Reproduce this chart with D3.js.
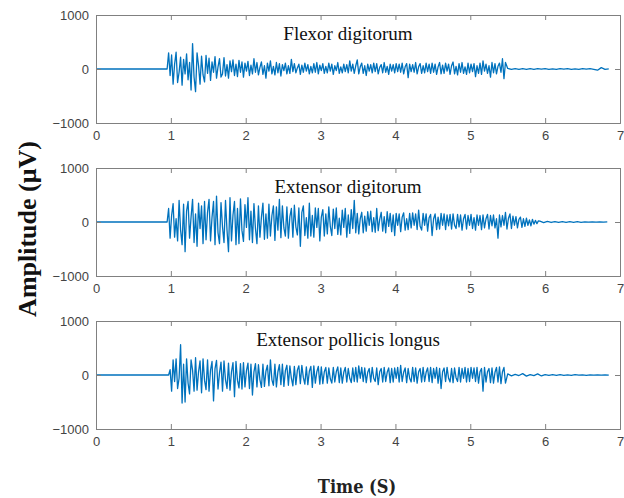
<!DOCTYPE html>
<html>
<head>
<meta charset="utf-8">
<script src="https://d3js.org/d3.v7.min.js"></script>
<style>
  body { margin: 0; background: #fff; }
</style>
</head>
<body>
<script>
// EMG recordings: active part sampled every 0.02 s, quiet tail every 0.05 s
let step = 0.02;
let tailStep = 0.05;
let xTicks = [0, 1, 2, 3, 4, 5, 6, 7];
let yTicks = [-1000, 0, 1000];
let muscleNames = ['Flexor digitorum', 'Extensor digitorum', 'Extensor pollicis longus'];
let onsets = [0.97, 0.97, 0.99];
let tailStarts = [5.5, 5.93, 5.5];

let flexorValues = [
  300,-120,260,-280,90,310,-250,-60,220,-300,180,-90,280,-200,120,-390,470,-150,-420,300,60,-280,240,-110,-240,
  250,-80,200,-210,130,-60,230,-170,40,190,-150,-90,210,-130,80,-170,150,-50,170,-120,90,-140,160,-60,130,
  -150,110,-40,140,-120,70,-90,190,-60,120,-110,30,130,-100,60,-170,110,-40,150,-90,50,-110,120,-70,100,
  -130,80,-30,110,-90,60,-80,180,-50,100,-70,20,90,-100,70,-60,110,-40,80,-90,50,-70,100,-60,120,
  -90,70,-30,100,-80,50,-70,110,-40,90,-100,60,-30,120,-80,40,-70,90,-50,80,-70,150,-40,90,-80,
  60,170,-90,40,110,-80,60,-120,90,-40,80,-70,110,-50,100,-90,30,80,-70,120,-60,50,-100,90,-40,
  80,-70,100,-50,90,-60,110,-90,40,100,-160,90,-50,80,-60,120,-90,40,100,-80,60,-70,110,-50,90,
  -80,110,-60,90,-100,40,120,-90,70,-80,110,-40,90,-100,60,130,-90,50,-110,100,-60,120,-80,40,-100,
  110,-70,90,-50,100,-140,60,-80,110,-100,150,-40,90,-80,60,-150,120,-70,100,-90,50,110,-60,190,-180,120
];
let flexorTail = [10,-8,6,-7,5,-6,8,-5,6,-4,5,-6,4,-5,6,-4,5,-5,4,-6,5,-4,6,-5,-22,25,-6,4];

let extensorValues = [
  250,-300,120,340,-280,60,-350,400,-150,-420,330,-550,200,380,-300,90,420,-380,150,-450,350,-120,300,-400,380,
  -330,180,420,-350,90,380,-420,480,-200,-400,360,-90,-380,400,-150,-550,450,-350,130,380,-420,250,-400,430,-160,
  -360,320,-100,450,-330,200,-380,340,-120,-400,300,-280,90,350,-320,150,-300,330,-260,120,300,-340,280,-150,420,
  -290,300,-110,-260,280,-300,100,250,-280,310,-90,-240,260,-450,180,300,-250,80,-300,350,-260,120,-280,260,-100,
  250,-350,90,230,-260,150,-220,280,-80,-250,240,-120,260,-230,70,-240,220,-100,250,-280,130,-210,230,-120,400,
  -200,160,-220,60,180,-200,110,-170,190,-60,200,-180,80,-190,250,-160,50,180,-170,100,-200,190,-80,160,-180,
  130,-250,160,-60,150,-180,90,170,-150,60,-140,160,-110,170,-60,150,-140,220,-80,-150,160,-60,150,-170,80,
  140,-250,60,150,-140,90,-130,160,-60,150,-140,130,-70,140,-130,150,-60,-120,140,-90,130,-150,60,140,-130,
  120,-60,140,-120,80,-150,130,-60,120,-140,130,-110,60,140,-130,120,-70,130,-110,60,-300,130,-90,120,-60,
  180,-130,70,150,-120,110,-60,100,-110,50,90,-100,60,-80,70,-60,40,-70,50,-40,30,-30,20
];
let extensorTail = [15,-12,10,-9,8,-8,7,-6,6,-5,5,-5,4,-4,4,-3,3,-3,2];

let pollicisValues = [
  100,-300,280,-120,300,-250,-60,560,-520,200,-500,300,-150,-350,280,90,-300,320,-280,60,260,-330,300,-100,-270,
  280,-300,90,250,-480,120,270,-260,40,240,-300,260,-90,-250,220,-280,60,230,-400,250,-100,-240,210,-260,230,
  -220,80,220,-250,200,-370,60,210,-220,190,-90,-230,200,-210,70,180,-200,280,-90,-190,200,-220,60,190,-180,
  200,-210,80,180,-190,170,-60,-200,160,-180,90,170,-160,180,-50,-170,150,-180,70,160,-230,170,-150,60,160,
  -170,150,-160,60,140,-150,130,-70,-150,140,-130,60,150,-140,130,-150,50,140,-130,120,-60,-140,130,-120,140,
  -130,170,-60,140,-120,130,-140,50,120,-130,140,-60,-120,130,-180,60,120,-130,140,-120,50,130,-140,120,-130,
  130,-60,140,-130,180,-120,50,130,-140,120,-60,-130,140,-120,130,-150,60,120,-130,140,-120,50,130,-120,140,
  -140,120,-60,140,-150,120,-250,60,130,-120,140,-60,-130,120,-140,130,-50,-120,140,-130,120,-60,140,-130,120,
  -120,140,-60,130,-120,140,-150,60,120,-300,140,-130,60,120,-140,130,-150,50,140,-130,150,-160,60,140,-150
];
let pollicisTail = [20,-15,12,-10,25,-20,8,-10,20,-18,6,-8,5,-6,6,-5,4,-5,5,-4,4,-5,4,-3,3,-3,3,-2];

let signals = [flexorValues, extensorValues, pollicisValues];
let tails = [flexorTail, extensorTail, pollicisTail];

let w = 624;
let h = 498;
let left = 96, right = 620;
let panelTops = [15, 168, 321];
let panelH = 108;

let svg = d3.select('body')
    .append('svg')
    .attr('width', w)
    .attr('height', h)
    .style('font-family', 'Liberation Sans, Arial, sans-serif');

let xScale = d3.scaleLinear()
    .domain([0, 7])
    .range([left, right]);

signals.forEach((vals, k) => {
    let top = panelTops[k];
    let yScale = d3.scaleLinear()
        .domain([-1000, 1000])
        .range([top + panelH, top]);

    // flat until onset, then the burst, then the quiet tail
    let pts = [[0, 0], [onsets[k] - step, 0]];
    vals.forEach((v, i) => pts.push([onsets[k] + i * step, v]));
    tails[k].forEach((v, i) => pts.push([tailStarts[k] + i * tailStep, v]));

    let g = svg.append('g');

    g.append('path')
        .datum(pts)
        .attr('fill', 'none')
        .attr('stroke', '#0072BD')
        .attr('stroke-width', 1.3)
        .attr('stroke-linejoin', 'round')
        .attr('d', d3.line().x(d => xScale(d[0])).y(d => yScale(d[1])));

    // ticks point inward on all four sides
    g.append('g')
        .attr('transform', `translate(0,${top + panelH})`)
        .call(d3.axisBottom(xScale).tickValues(xTicks).tickSize(-5).tickPadding(8).tickFormat(d3.format('d')))
    g.append('g')
        .attr('transform', `translate(0,${top})`)
        .call(d3.axisTop(xScale).tickValues(xTicks).tickSize(-5).tickFormat(''))
    g.append('g')
        .attr('transform', `translate(${left},0)`)
        .call(d3.axisLeft(yScale).tickValues(yTicks).tickSize(-5).tickPadding(7).tickFormat(d3.format('d')))
    g.append('g')
        .attr('transform', `translate(${right},0)`)
        .call(d3.axisRight(yScale).tickValues(yTicks).tickSize(-5).tickFormat(''))

    g.selectAll('.domain').attr('stroke', '#808080');
    g.selectAll('.tick line').attr('stroke', '#808080');
    g.selectAll('.tick text')
        .attr('fill', '#444')
        .style('font-size', '13px')
        .style('font-family', 'Liberation Sans, Arial, sans-serif');

    g.append('text')
        .text(muscleNames[k])
        .attr('x', 348)
        .attr('y', top + 25)
        .style('text-anchor', 'middle')
        .style('font-family', 'Liberation Serif, Times New Roman, serif')
        .style('font-size', '19px')
        .attr('fill', '#111');
});

svg.append('text')
    .text('Amplitude (μV)')
    .attr('transform', `translate(36,229) rotate(-90)`)
    .style('text-anchor', 'middle')
    .style('font-family', 'Liberation Serif, Times New Roman, serif')
    .style('font-weight', 'bold')
    .style('font-size', '26px')
    .attr('fill', '#111');

svg.append('text')
    .text('Time (S)')
    .attr('x', 357)
    .attr('y', 493)
    .style('text-anchor', 'middle')
    .style('font-family', 'DejaVu Serif, serif')
    .style('font-stretch', 'condensed')
    .style('font-weight', 'bold')
    .style('font-size', '18px')
    .attr('fill', '#222');
</script>
</body>
</html>
